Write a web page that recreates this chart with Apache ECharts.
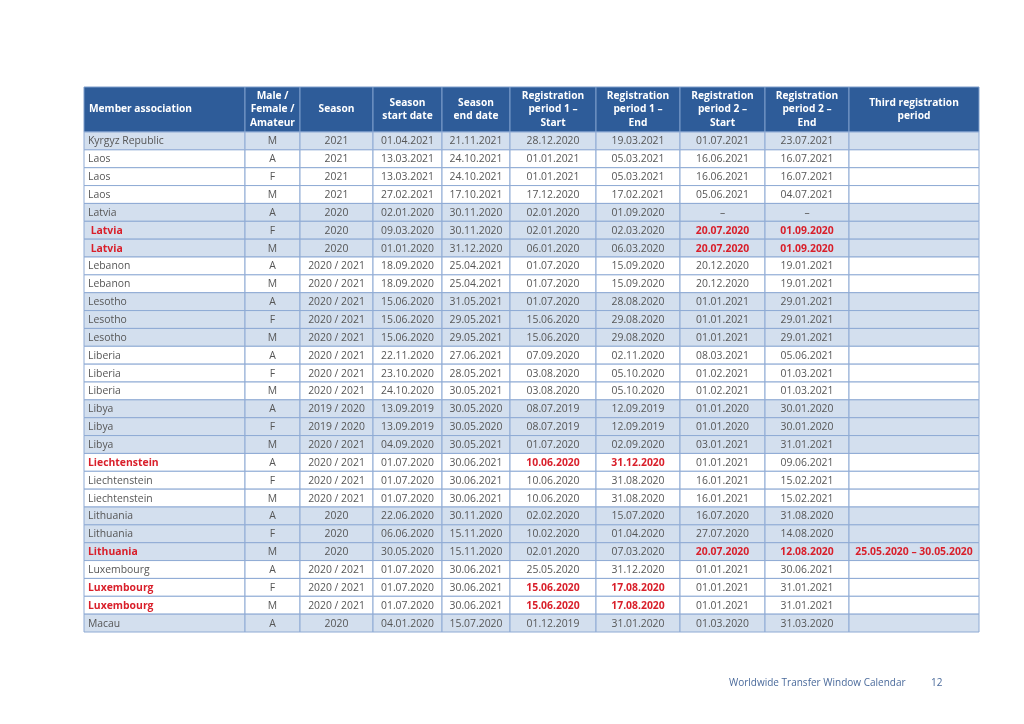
<!DOCTYPE html>
<html>
<head>
<meta charset="utf-8">
<script src="https://cdn.jsdelivr.net/npm/echarts@6/dist/echarts.min.js"></script>
<style>html,body{margin:0;padding:0;background:#fff}#c{width:1024px;height:724px}</style>
</head>
<body>
<div id="c"></div>
<script>
// ---- data ----
const headers = ['Member association', 'Male /\nFemale /\nAmateur', 'Season', 'Season\nstart date', 'Season\nend date',
  'Registration\nperiod 1 –\nStart', 'Registration\nperiod 1 –\nEnd', 'Registration\nperiod 2 –\nStart', 'Registration\nperiod 2 –\nEnd', 'Third registration\nperiod'];
const associations = ['Kyrgyz Republic','Laos','Laos','Laos','Latvia',' Latvia',' Latvia','Lebanon','Lebanon','Lesotho','Lesotho','Lesotho',
  'Liberia','Liberia','Liberia','Libya','Libya','Libya','Liechtenstein','Liechtenstein','Liechtenstein','Lithuania','Lithuania','Lithuania',
  'Luxembourg','Luxembourg','Luxembourg','Macau'];
const genders = ['M','A','F','M','A','F','M','A','M','A','F','M','A','F','M','A','F','M','A','F','M','A','F','M','A','F','M','A'];
const seasons = ['2021','2021','2021','2021','2020','2020','2020','2020 / 2021','2020 / 2021','2020 / 2021','2020 / 2021','2020 / 2021',
  '2020 / 2021','2020 / 2021','2020 / 2021','2019 / 2020','2019 / 2020','2020 / 2021','2020 / 2021','2020 / 2021','2020 / 2021','2020','2020','2020',
  '2020 / 2021','2020 / 2021','2020 / 2021','2020'];
const seasonStart = ['01.04.2021','13.03.2021','13.03.2021','27.02.2021','02.01.2020','09.03.2020','01.01.2020','18.09.2020','18.09.2020','15.06.2020','15.06.2020','15.06.2020',
  '22.11.2020','23.10.2020','24.10.2020','13.09.2019','13.09.2019','04.09.2020','01.07.2020','01.07.2020','01.07.2020','22.06.2020','06.06.2020','30.05.2020',
  '01.07.2020','01.07.2020','01.07.2020','04.01.2020'];
const seasonEnd = ['21.11.2021','24.10.2021','24.10.2021','17.10.2021','30.11.2020','30.11.2020','31.12.2020','25.04.2021','25.04.2021','31.05.2021','29.05.2021','29.05.2021',
  '27.06.2021','28.05.2021','30.05.2021','30.05.2020','30.05.2020','30.05.2021','30.06.2021','30.06.2021','30.06.2021','30.11.2020','15.11.2020','15.11.2020',
  '30.06.2021','30.06.2021','30.06.2021','15.07.2020'];
const reg1Start = ['28.12.2020','01.01.2021','01.01.2021','17.12.2020','02.01.2020','02.01.2020','06.01.2020','01.07.2020','01.07.2020','01.07.2020','15.06.2020','15.06.2020',
  '07.09.2020','03.08.2020','03.08.2020','08.07.2019','08.07.2019','01.07.2020','10.06.2020','10.06.2020','10.06.2020','02.02.2020','10.02.2020','02.01.2020',
  '25.05.2020','15.06.2020','15.06.2020','01.12.2019'];
const reg1End = ['19.03.2021','05.03.2021','05.03.2021','17.02.2021','01.09.2020','02.03.2020','06.03.2020','15.09.2020','15.09.2020','28.08.2020','29.08.2020','29.08.2020',
  '02.11.2020','05.10.2020','05.10.2020','12.09.2019','12.09.2019','02.09.2020','31.12.2020','31.08.2020','31.08.2020','15.07.2020','01.04.2020','07.03.2020',
  '31.12.2020','17.08.2020','17.08.2020','31.01.2020'];
const reg2Start = ['01.07.2021','16.06.2021','16.06.2021','05.06.2021','–','20.07.2020','20.07.2020','20.12.2020','20.12.2020','01.01.2021','01.01.2021','01.01.2021',
  '08.03.2021','01.02.2021','01.02.2021','01.01.2020','01.01.2020','03.01.2021','01.01.2021','16.01.2021','16.01.2021','16.07.2020','27.07.2020','20.07.2020',
  '01.01.2021','01.01.2021','01.01.2021','01.03.2020'];
const reg2End = ['23.07.2021','16.07.2021','16.07.2021','04.07.2021','–','01.09.2020','01.09.2020','19.01.2021','19.01.2021','29.01.2021','29.01.2021','29.01.2021',
  '05.06.2021','01.03.2021','01.03.2021','30.01.2020','30.01.2020','31.01.2021','09.06.2021','15.02.2021','15.02.2021','31.08.2020','14.08.2020','12.08.2020',
  '30.06.2021','31.01.2021','31.01.2021','31.03.2020'];
const thirdPeriod = ['','','','','','','','','','','','','','','','','','','','','','','','25.05.2020 – 30.05.2020','','','',''];
// highlighted (red, bold) cells: [row, column]
const highlighted = [[5,0],[5,7],[5,8],[6,0],[6,7],[6,8],[18,0],[18,5],[18,6],[23,0],[23,7],[23,8],[23,9],[25,0],[25,5],[25,6],[26,0],[26,5],[26,6]];
const footerTitle = 'Worldwide Transfer Window Calendar';
const pageNumber = '12';

// ---- layout ----
const colWidths = [161, 55, 73, 69, 68, 86, 84, 85, 84, 130];
const xEdges = [0];
colWidths.forEach(w => xEdges.push(xEdges[xEdges.length - 1] + w));
const totalW = xEdges[xEdges.length - 1];
const columns = [associations, genders, seasons, seasonStart, seasonEnd, reg1Start, reg1End, reg2Start, reg2End, thirdPeriod];
const hlSet = new Set(highlighted.map(h => h[0] + ':' + h[1]));

// band shading alternates per association group
const shade = [];
let s = true;
associations.forEach((a, i) => {
  if (i > 0 && a.trim() !== associations[i - 1].trim()) s = !s;
  shade.push(s);
});

const FONT = '"Open Sans", "Noto Sans", sans-serif';
const HEADER_BG = '#2E5C99';
const LIGHT = '#D3DFEE';
const BORDER = '#8EAAD4';
const TEXT = '#565656';
const RED = '#D91F2A';

const chart = echarts.init(document.getElementById('c'), null, { renderer: 'canvas' });

function headerItem(params, api) {
  const children = [];
  const yc = api.coord([0, 0])[1];
  const h = api.size([0, 1])[1];
  const top = yc - h / 2;
  for (let c = 0; c < colWidths.length; c++) {
    const x0 = api.coord([xEdges[c], 0])[0];
    const x1 = api.coord([xEdges[c + 1], 0])[0];
    children.push({ type: 'rect', shape: { x: x0, y: top, width: x1 - x0, height: h },
      style: { fill: HEADER_BG, stroke: '#7D9DCB', lineWidth: 1 } });
    const left = c === 0;
    children.push({ type: 'text', style: {
      text: headers[c], x: left ? x0 + 5 : (x0 + x1) / 2, y: yc,
      align: left ? 'left' : 'center', verticalAlign: 'middle',
      fill: '#ffffff', fontFamily: FONT, fontWeight: 'bold', fontSize: 10.2, lineHeight: 13.5 } });
  }
  return { type: 'group', children };
}

function rowItem(params, api) {
  const r = api.value(0);
  const yc = api.coord([0, r])[1];
  const h = api.size([0, 1])[1];
  const top = yc - h / 2;
  const children = [];
  for (let c = 0; c < colWidths.length; c++) {
    const x0 = api.coord([xEdges[c], r])[0];
    const x1 = api.coord([xEdges[c + 1], r])[0];
    children.push({ type: 'rect', shape: { x: x0, y: top, width: x1 - x0, height: h },
      style: { fill: shade[r] ? LIGHT : '#ffffff', stroke: BORDER, lineWidth: 1 } });
    const txt = columns[c][r];
    if (txt) {
      const red = hlSet.has(r + ':' + c);
      const left = c === 0;
      children.push({ type: 'text', style: {
        text: txt, x: left ? x0 + 4 : (x0 + x1) / 2, y: yc + 0.5,
        align: left ? 'left' : 'center', verticalAlign: 'middle',
        fill: red ? RED : TEXT, fontFamily: FONT, fontWeight: red ? 'bold' : 'normal', fontSize: 10.4 } });
    }
  }
  return { type: 'group', children };
}

chart.setOption({
  animation: false,
  backgroundColor: '#ffffff',
  title: [
    { text: footerTitle, left: 724, top: 673, textStyle: { color: '#4A6A9B', fontFamily: FONT, fontSize: 10, fontWeight: 'normal' } },
    { text: pageNumber, left: 926, top: 673, textStyle: { color: '#4A6A9B', fontFamily: FONT, fontSize: 10, fontWeight: 'normal' } }
  ],
  grid: [
    { left: 84, top: 87, width: totalW, height: 45 },
    { left: 84, top: 132, width: totalW, height: 500 }
  ],
  xAxis: [
    { type: 'value', gridIndex: 0, min: 0, max: totalW, show: false },
    { type: 'value', gridIndex: 1, min: 0, max: totalW, show: false }
  ],
  yAxis: [
    { type: 'category', gridIndex: 0, data: ['header'], show: false },
    { type: 'category', gridIndex: 1, data: associations.map((a, i) => i), inverse: true, show: false }
  ],
  series: [
    { type: 'custom', xAxisIndex: 0, yAxisIndex: 0, renderItem: headerItem, data: [[0]], encode: { y: 0 }, clip: false, silent: true },
    { type: 'custom', xAxisIndex: 1, yAxisIndex: 1, renderItem: rowItem, data: associations.map((a, i) => [i]), encode: { y: 0 }, clip: false, silent: true }
  ]
});
</script>
</body>
</html>
